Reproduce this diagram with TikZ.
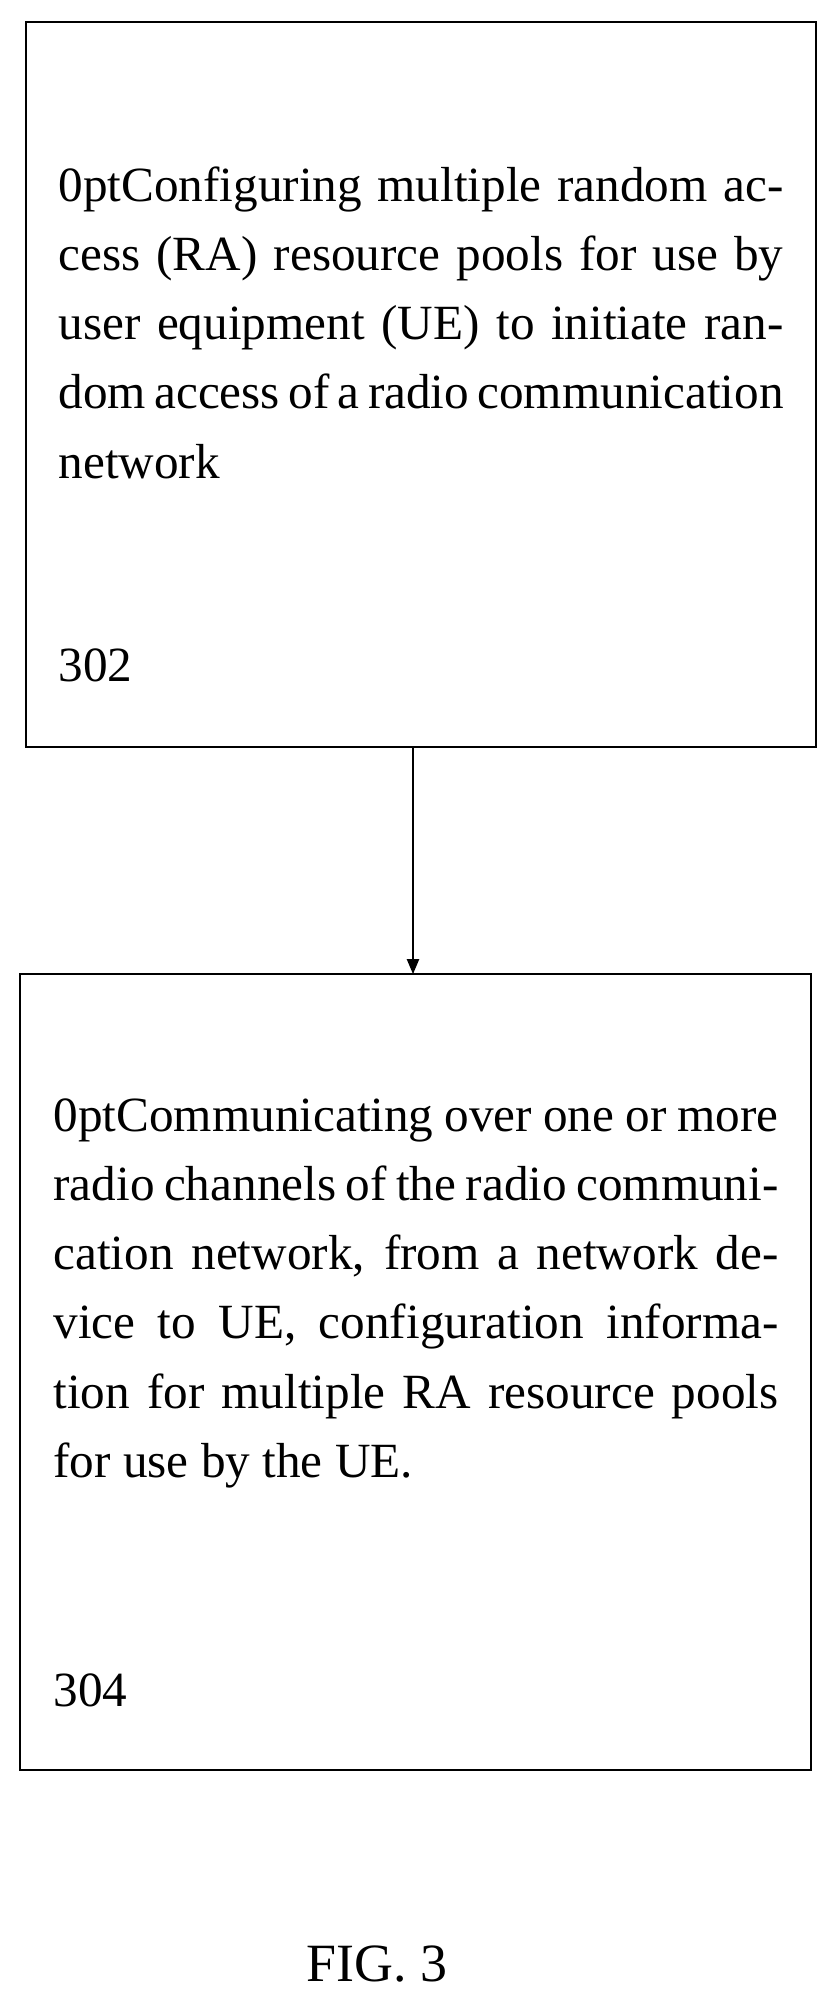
\documentclass[tikz,border=0pt]{standalone}
\usepackage{fontspec}
\setmainfont{Liberation Serif}
\usetikzlibrary{arrows,calc}

\begin{document}
\begin{tikzpicture}[x=1cm,y=-1cm,
        stepbox/.style={draw,line width=2pt},
        steptext/.style={anchor=north west,inner sep=0pt,text width=21.75cm,align=justify,
            font=\fontsize{42}{59}\selectfont\hyphenpenalty=10000\exhyphenpenalty=10000},
        steplabel/.style={anchor=base west,inner sep=0pt,font=\fontsize{42}{55}\selectfont}]
        \useasboundingbox (0, 0) rectangle (25.2, 60.21);
        % first step
        \draw [stepbox] (0.78, 0.66) rectangle (24.48, 22.41);
        \node [steptext] (configtext) at (1.75, 5.0) {Configuring multiple random access (RA) resource pools for use by user equipment (UE) to initiate random access of a radio communication network};
        \node [steplabel] (configlabel) at (1.75, 20.45) {302};
        % second step
        \draw [stepbox] (0.6, 29.22) rectangle (24.33, 53.1);
        \node [steptext] (commtext) at (1.6, 32.96) {Communicating over one or more radio channels of the radio communication network, from a network device to UE, configuration information for multiple RA resource pools for use by the UE.};
        \node [steplabel] (commlabel) at (1.6, 51.2) {304};
        \coordinate (arrowtop) at (12.39, 22.41);
        \coordinate (arrowend) at (12.39, 29.22);
        \draw [line width=2pt,-triangle 45] (arrowtop) -- (arrowend);
        \node [anchor=base,inner sep=0pt,font=\fontsize{46}{55}\selectfont] (fig) at (11.31, 59.45) {FIG. 3};
\end{tikzpicture}
\end{document}
